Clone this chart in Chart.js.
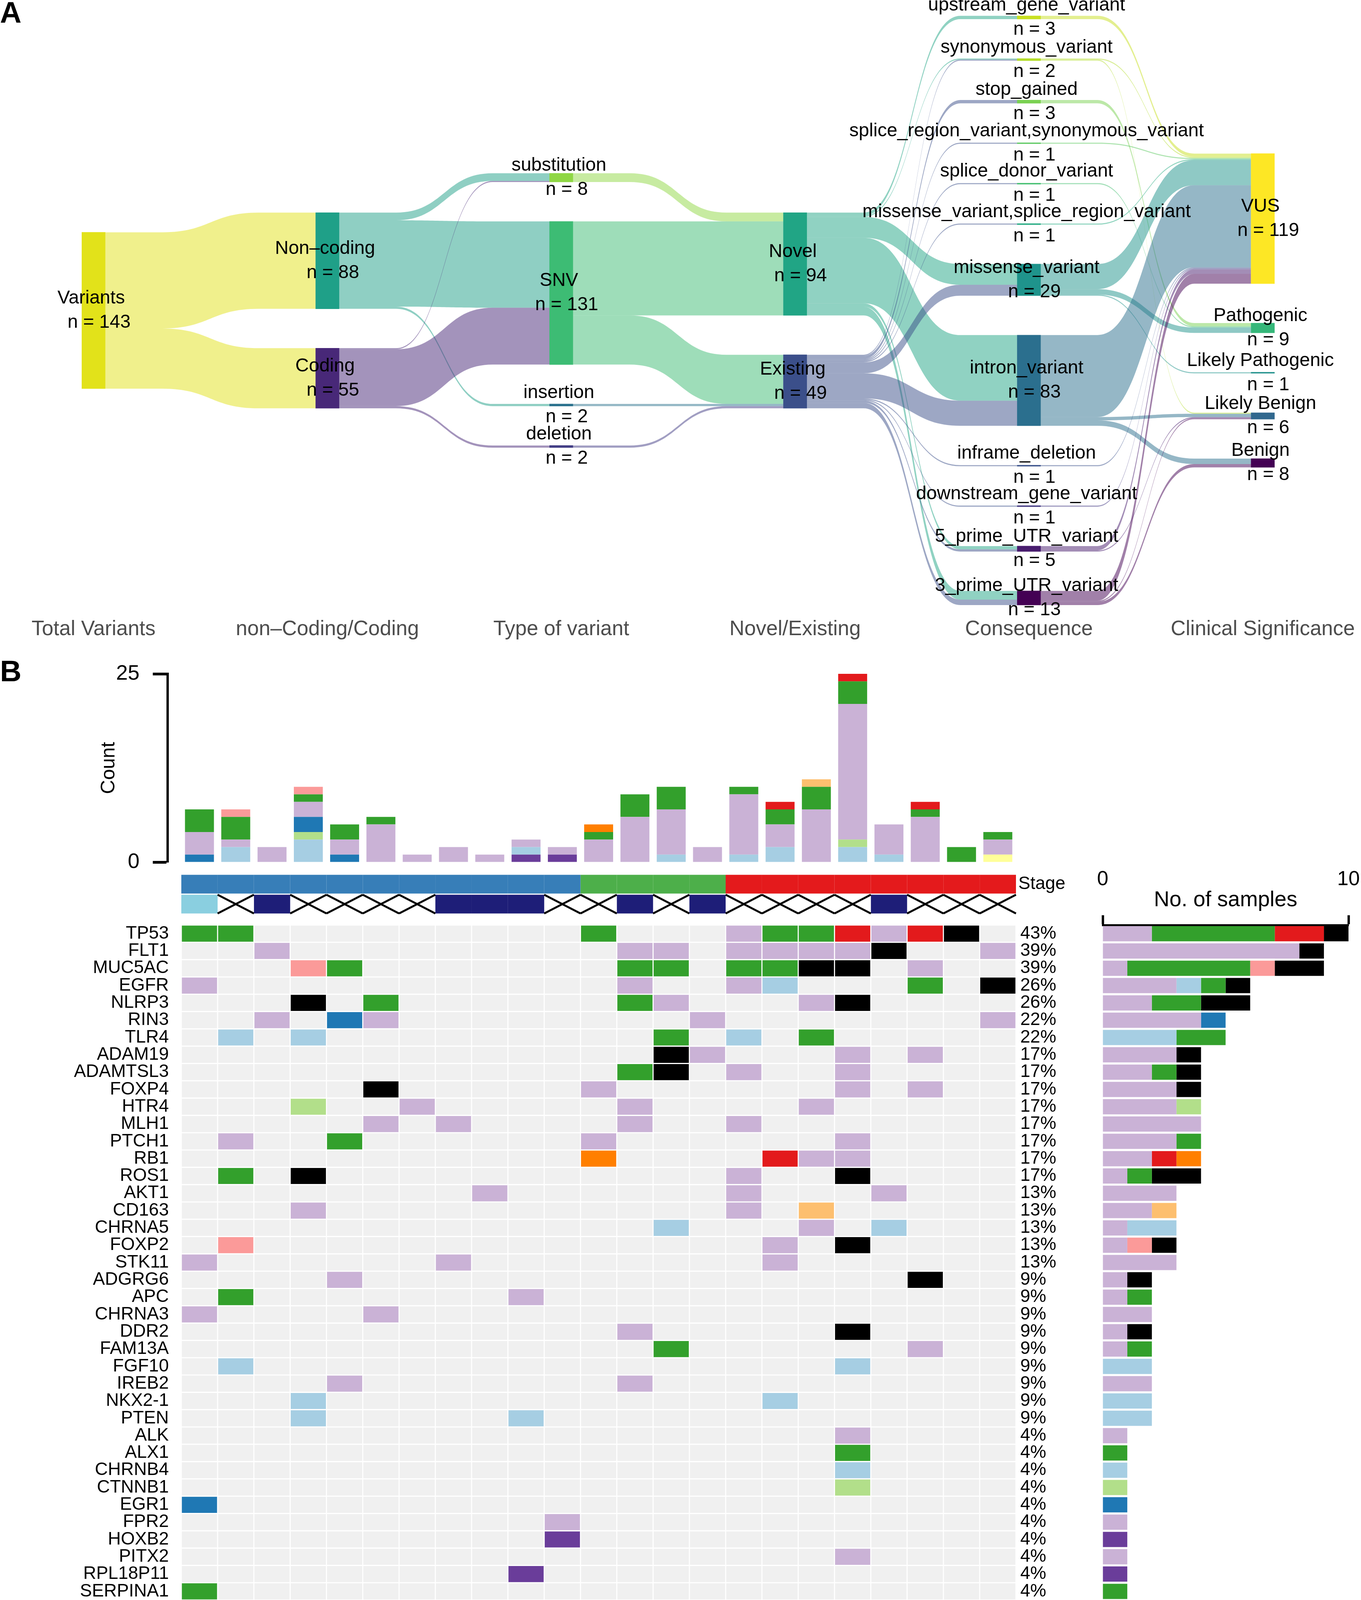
<!DOCTYPE html>
<html>
<head>
<meta charset="utf-8">
<script src="https://cdn.jsdelivr.net/npm/chart.js@4.4.1/dist/chart.umd.min.js"></script>
<style>
  html, body { margin: 0; padding: 0; background: #fff; }
  #page { position: relative; width: 3483px; height: 5612px; background: #fff; overflow: hidden;
          font-family: "Liberation Sans", Arial, Helvetica, sans-serif; color: #000; }
  canvas { position: absolute; }
  .tag { position: absolute; font-weight: bold; font-size: 76px; line-height: 1; }
  .lg { position: absolute; white-space: nowrap; line-height: 1; }
  .sw { position: absolute; }
</style>
</head>
<body>
<div id="page">
  <div class="tag" style="left:0;top:-6px">A</div>
  <div class="tag" style="left:0;top:1680px">B</div>
  <canvas id="sankey" style="left:0;top:0" width="3483" height="1660"></canvas>
  <canvas id="counts" style="left:200px;top:1680px" width="2400" height="557"></canvas>
  <canvas id="tracks" style="left:164px;top:2228px" width="2636" height="122"></canvas>
  <canvas id="onco" style="left:164px;top:2368px" width="2556" height="2061"></canvas>
  <canvas id="perGene" style="left:2760px;top:2200px" width="723" height="2029"></canvas>
  <canvas id="spectrum" style="left:464px;top:4449px" width="2136" height="606"></canvas>
</div>
<script>
// ---------------- Panel A : variant flow ----------------
const sankeyColumns = ['Total Variants', 'non\u2013Coding/Coding', 'Type of variant', 'Novel/Existing', 'Consequence', 'Clinical Significance'];
const totalNodes = ['Variants'];
const codingNodes = ['Non\u2013coding', 'Coding'];
const typeNodes = ['substitution', 'SNV', 'insertion', 'deletion'];
const noveltyNodes = ['Novel', 'Existing'];
const consequenceNodes = ['upstream_gene_variant', 'synonymous_variant', 'stop_gained',
  'splice_region_variant,synonymous_variant', 'splice_donor_variant', 'missense_variant,splice_region_variant',
  'missense_variant', 'intron_variant', 'inframe_deletion', 'downstream_gene_variant',
  '5_prime_UTR_variant', '3_prime_UTR_variant'];
const significanceNodes = ['VUS', 'Pathogenic', 'Likely Pathogenic', 'Likely Benign', 'Benign'];

// [from, to, n]
const codingFlows = [['Variants', 'Non\u2013coding', 88], ['Variants', 'Coding', 55]];
const typeFlows = [
  ['Non\u2013coding', 'substitution', 7], ['Non\u2013coding', 'SNV', 79], ['Non\u2013coding', 'insertion', 2],
  ['Coding', 'substitution', 1], ['Coding', 'SNV', 52], ['Coding', 'deletion', 2]];
const noveltyFlows = [
  ['substitution', 'Novel', 8], ['SNV', 'Novel', 86], ['SNV', 'Existing', 45],
  ['insertion', 'Existing', 2], ['deletion', 'Existing', 2]];
const consequenceFlows = [
  ['Novel', 'upstream_gene_variant', 3], ['Novel', 'synonymous_variant', 1], ['Novel', 'missense_variant', 19],
  ['Novel', 'intron_variant', 60], ['Novel', '5_prime_UTR_variant', 3], ['Novel', '3_prime_UTR_variant', 8],
  ['Existing', 'synonymous_variant', 1], ['Existing', 'stop_gained', 3],
  ['Existing', 'splice_region_variant,synonymous_variant', 1], ['Existing', 'splice_donor_variant', 1],
  ['Existing', 'missense_variant,splice_region_variant', 1], ['Existing', 'missense_variant', 10],
  ['Existing', 'intron_variant', 23], ['Existing', 'inframe_deletion', 1], ['Existing', 'downstream_gene_variant', 1],
  ['Existing', '5_prime_UTR_variant', 2], ['Existing', '3_prime_UTR_variant', 5]];
const significanceFlows = [
  ['upstream_gene_variant', 'VUS', 3], ['synonymous_variant', 'VUS', 1], ['synonymous_variant', 'Likely Benign', 1],
  ['stop_gained', 'Pathogenic', 3], ['splice_region_variant,synonymous_variant', 'VUS', 1],
  ['splice_donor_variant', 'Pathogenic', 1], ['missense_variant,splice_region_variant', 'VUS', 1],
  ['missense_variant', 'VUS', 23], ['missense_variant', 'Pathogenic', 5], ['missense_variant', 'Likely Pathogenic', 1],
  ['intron_variant', 'VUS', 75], ['intron_variant', 'Likely Benign', 3], ['intron_variant', 'Benign', 5],
  ['inframe_deletion', 'VUS', 1], ['downstream_gene_variant', 'VUS', 1],
  ['5_prime_UTR_variant', 'VUS', 4], ['5_prime_UTR_variant', 'Likely Benign', 1],
  ['3_prime_UTR_variant', 'VUS', 9], ['3_prime_UTR_variant', 'Likely Benign', 1], ['3_prime_UTR_variant', 'Benign', 3]];

// ---------------- Panel B : oncoplot ----------------
const samples = ['PCT68', 'PCT80', 'PCT72', 'PCT22', 'PCT67', 'PCT50', 'PCT21', 'PCT87', 'PCT73', 'PCT88', 'PCT79', 'PCT76',
  'PCT71', 'PCT65', 'PCT85', 'PCT20', 'PCT33', 'PCT45', 'PCT75', 'PCT53', 'PCT74', 'PCT47', 'PCT46'];
const stage = [1, 1, 1, 1, 1, 1, 1, 1, 1, 1, 1, 2, 2, 2, 2, 3, 3, 3, 3, 3, 3, 3, 3];
const ezh2 = ['high', 'absent', 'low', 'absent', 'absent', 'absent', 'absent', 'low', 'low', 'low', 'absent', 'absent',
  'low', 'absent', 'low', 'absent', 'absent', 'absent', 'absent', 'low', 'absent', 'absent', 'absent'];
const genes = ['TP53', 'FLT1', 'MUC5AC', 'EGFR', 'NLRP3', 'RIN3', 'TLR4', 'ADAM19', 'ADAMTSL3', 'FOXP4', 'HTR4', 'MLH1',
  'PTCH1', 'RB1', 'ROS1', 'AKT1', 'CD163', 'CHRNA5', 'FOXP2', 'STK11', 'ADGRG6', 'APC', 'CHRNA3', 'DDR2', 'FAM13A',
  'FGF10', 'IREB2', 'NKX2-1', 'PTEN', 'ALK', 'ALX1', 'CHRNB4', 'CTNNB1', 'EGR1', 'FPR2', 'HOXB2', 'PITX2', 'RPL18P11',
  'SERPINA1', 'SLC22A18', 'TET2', 'TGFB2'];
// one string per gene, one letter per sample:
// I Intron, U 3'UTR, M Missense, 5 5'UTR, F 5'Flank, S Silent, N Nonsense, R Splice_Region,
// D In_Frame_Del, P Splice_Site, L 3'Flank, H Multi_Hit, . none
const calls = [
  'MM.........M...IMMNINH.',
  '..I.........II.IIIIH..I',
  '...SM.......MM.MMHH.I..',
  'I...........I..IU...M.H',
  '...H.M......MI...IH....',
  '..I.5I........I.......I',
  '.U.U.........M.U.M.....',
  '.............HI...I.I..',
  '............MH.I..I....',
  '.....H.....I......I.I..',
  '...F..I.....I....I.....',
  '.....I.I....I..I.......',
  '.I..M......I......I....',
  '...........P....NII....',
  '.M.H...........I..H....',
  '........I......I...I...',
  '...I...........I.R.....',
  '.............U...I.U...',
  '.S..............I.H....',
  'I......I........I......',
  '....I...............H..',
  '.M.......I.............',
  'I....I.................',
  '............I.....H....',
  '.............M......I..',
  '.U................U....',
  '....I.......I..........',
  '...U............U......',
  '...U.....U.............',
  '..................I....',
  '..................M....',
  '..................U....',
  '..................F....',
  '5......................',
  '..........I............',
  '..........L............',
  '..................I....',
  '.........L.............',
  'M......................',
  '...........I...........',
  'M......................',
  '.................I.....'];
const typeNames = { I: 'Intron', U: "3'UTR", M: 'Missense', 5: "5'UTR", F: "5'Flank", S: 'Silent', N: 'Nonsense',
  R: 'Splice_Region', D: 'In_Frame_Del', P: 'Splice_Site', L: "3'Flank", H: 'Multi_Hit' };

// variants per sample (top bar), by classification
const inFrameDel   = [0,0,0,0,0,0,0,0,0,0,0,0,0,0,0,0,0,0,0,0,0,0,1];
const flank3       = [0,0,0,0,0,0,0,0,0,1,1,0,0,0,0,0,0,0,0,0,0,0,0];
const utr3         = [0,2,0,3,0,0,0,0,0,1,0,0,0,1,0,1,2,0,2,1,0,0,0];
const flank5       = [0,0,0,1,0,0,0,0,0,0,0,0,0,0,0,0,0,0,1,0,0,0,0];
const utr5         = [1,0,0,2,1,0,0,0,0,0,0,0,0,0,0,0,0,0,0,0,0,0,0];
const intron       = [3,1,2,2,2,5,1,2,1,1,1,3,6,6,2,8,3,7,18,4,6,0,2];
const missense     = [3,3,0,1,2,1,0,0,0,0,0,1,3,3,0,1,2,3,3,0,1,2,1];
const spliceSite   = [0,0,0,0,0,0,0,0,0,0,0,1,0,0,0,0,0,0,0,0,0,0,0];
const nonsense     = [0,0,0,0,0,0,0,0,0,0,0,0,0,0,0,0,1,0,1,0,1,0,0];
const spliceRegion = [0,0,0,0,0,0,0,0,0,0,0,0,0,0,0,0,0,1,0,0,0,0,0];
const silent       = [0,1,0,1,0,0,0,0,0,0,0,0,0,0,0,0,0,0,0,0,0,0,0];

// substitution spectrum per sample (counts)
const subCA = [0,1,0,0,1,1,1,0,0,0,1,1,1,1,0,2,4,4,13,1,2,1,1];
const subCG = [0,0,0,2,0,1,0,1,0,0,0,1,1,3,0,1,2,0,2,0,0,1,0];
const subCT = [4,2,0,2,1,0,0,1,0,0,1,1,1,1,0,3,1,3,4,2,0,0,0];
const subTC = [3,3,0,3,2,2,0,0,1,1,0,2,0,1,0,1,0,1,3,1,0,0,1];
const subTA = [0,1,1,2,1,0,0,0,0,2,0,0,0,1,0,2,0,2,1,0,1,0,0];
const subTG = [0,0,1,0,0,0,0,0,0,0,0,0,0,3,1,1,0,1,1,0,2,0,1];

// ---------------- styles ----------------
const FONT = '"Liberation Sans", Arial, Helvetica, sans-serif';
Chart.defaults.font.family = FONT;
Chart.defaults.color = '#000';

const nodeColors = {
  'Variants': '#E2E21A', 'Non\u2013coding': '#1FA088', 'Coding': '#482878',
  'substitution': '#8FD744', 'SNV': '#3DBC74', 'insertion': '#2C728E', 'deletion': '#433E85',
  'Novel': '#21A585', 'Existing': '#3B4F8A',
  'upstream_gene_variant': '#C8E020', 'synonymous_variant': '#B4DD2B', 'stop_gained': '#7AD151',
  'splice_region_variant,synonymous_variant': '#5EC962', 'splice_donor_variant': '#44BF70',
  'missense_variant,splice_region_variant': '#25AB82', 'missense_variant': '#1F948C', 'intron_variant': '#2B6F8E',
  'inframe_deletion': '#3B528B', 'downstream_gene_variant': '#443A83', '5_prime_UTR_variant': '#481C6E',
  '3_prime_UTR_variant': '#440154',
  'VUS': '#FDE725', 'Pathogenic': '#35B779', 'Likely Pathogenic': '#21918C', 'Likely Benign': '#31688E', 'Benign': '#440154'
};
const typeColors = { I: '#CAB2D6', U: '#A6CEE3', M: '#33A02C', 5: '#1F78B4', F: '#B2DF8A', S: '#FB9A99',
  N: '#E31A1C', R: '#FDBF6F', D: '#FFFF99', P: '#FF7F00', L: '#6A3D9A', H: '#000000', '.': '#F0F0F0' };
const stageColors = { 1: '#377EB8', 2: '#4DAF4A', 3: '#E41A1C' };
const ezhColors = { low: '#1E1E78', high: '#8ACFE0', absent: '#FFFFFF' };
const subColors = { 'C>T': '#F44336', 'C>G': '#3F51B5', 'C>A': '#2196F3', 'T>A': '#4CAF50', 'T>C': '#FFC107', 'T>G': '#FF9800' };

const noPad = s => { s.paddingLeft = 0; s.paddingRight = 0; s.paddingTop = 0; s.paddingBottom = 0; };
const base = { responsive: false, devicePixelRatio: 1, animation: false,
  plugins: { legend: { display: false }, tooltip: { enabled: false } } };

// ---------------- Sankey layout (in variant units) ----------------
const sankeyLayers = [totalNodes, codingNodes, typeNodes, noveltyNodes, consequenceNodes, significanceNodes];
const sankeyFlows = [codingFlows, typeFlows, noveltyFlows, consequenceFlows, significanceFlows];
const GAP = 36;
const nodeInfo = {};
sankeyLayers.forEach((names, col) => {
  names.forEach((name, k) => {
    const inSum = col > 0 ? sankeyFlows[col - 1].filter(f => f[1] === name).reduce((a, f) => a + f[2], 0) : 0;
    const outSum = col < sankeyFlows.length ? sankeyFlows[col].filter(f => f[0] === name).reduce((a, f) => a + f[2], 0) : 0;
    nodeInfo[name] = { col, k, value: Math.max(inSum, outSum) };
  });
  const total = names.reduce((a, n) => a + nodeInfo[n].value, 0) + GAP * (names.length - 1);
  let y = -total / 2;
  names.forEach(n => { nodeInfo[n].y0 = y; nodeInfo[n].y1 = y + nodeInfo[n].value; y += nodeInfo[n].value + GAP; });
});
const ribbons = [];
sankeyFlows.forEach((flows, c) => {
  const rs = flows.map(f => ({ from: f[0], to: f[1], n: f[2], col: c }));
  const outOff = {}, inOff = {};
  rs.slice().sort((a, b) => nodeInfo[a.from].k - nodeInfo[b.from].k || nodeInfo[a.to].k - nodeInfo[b.to].k)
    .forEach(r => { const o = outOff[r.from] || 0; r.sy0 = nodeInfo[r.from].y0 + o; r.sy1 = r.sy0 + r.n; outOff[r.from] = o + r.n; });
  rs.slice().sort((a, b) => nodeInfo[a.to].k - nodeInfo[b.to].k || nodeInfo[a.from].k - nodeInfo[b.from].k)
    .forEach(r => { const o = inOff[r.to] || 0; r.ty0 = nodeInfo[r.to].y0 + o; r.ty1 = r.ty0 + r.n; inOff[r.to] = o + r.n; });
  ribbons.push(...rs);
});
const nodeNames = Object.keys(nodeInfo);

const sankeyPlugin = {
  id: 'sankeyFlows',
  beforeDatasetsDraw(chart) {
    const { ctx, scales: { x, y } } = chart;
    ctx.save();
    ribbons.forEach(r => {
      const xs = x.getPixelForValue(r.col) + 30, xt = x.getPixelForValue(r.col + 1) - 30;
      const w = xt - xs, x1 = xs + 0.27 * w, x2 = xt - 0.27 * w, xm = (xs + xt) / 2;
      const a0 = y.getPixelForValue(r.sy0), a1 = y.getPixelForValue(r.sy1);
      const b0 = y.getPixelForValue(r.ty0), b1 = y.getPixelForValue(r.ty1);
      ctx.beginPath();
      ctx.moveTo(xs, a0); ctx.lineTo(x1, a0);
      ctx.bezierCurveTo(xm, a0, xm, b0, x2, b0);
      ctx.lineTo(xt, b0); ctx.lineTo(xt, b1); ctx.lineTo(x2, b1);
      ctx.bezierCurveTo(xm, b1, xm, a1, x1, a1);
      ctx.lineTo(xs, a1);
      ctx.closePath();
      ctx.fillStyle = nodeColors[r.from] + '80';
      ctx.fill();
    });
    ctx.restore();
  },
  afterDatasetsDraw(chart) {
    const { ctx, scales: { x, y } } = chart;
    ctx.save();
    ctx.font = '48px ' + FONT;
    ctx.fillStyle = '#000';
    ctx.textAlign = 'center';
    ctx.textBaseline = 'middle';
    nodeNames.forEach(name => {
      const n = nodeInfo[name];
      const px = x.getPixelForValue(n.col), py = y.getPixelForValue((n.y0 + n.y1) / 2);
      ctx.fillText(name, px - 6, py - 31);
      ctx.fillText('n = ' + n.value, px + 14, py + 31);
    });
    ctx.restore();
  }
};

new Chart(document.getElementById('sankey'), {
  type: 'bar',
  data: { datasets: [{
    data: nodeNames.map(n => ({ x: nodeInfo[n].col, y: [nodeInfo[n].y0, nodeInfo[n].y1] })),
    backgroundColor: nodeNames.map(n => nodeColors[n]),
    barThickness: 60, borderWidth: 0, borderSkipped: false
  }] },
  options: Object.assign({}, base, {
    layout: { padding: 0 },
    scales: {
      x: { type: 'linear', min: -0.4, max: 5.42, offset: false,
        grid: { display: false, drawTicks: false }, border: { display: false },
        afterBuildTicks: s => { s.ticks = sankeyColumns.map((c, i) => ({ value: i })); },
        ticks: { autoSkip: false, maxRotation: 0, padding: 10, color: '#4D4D4D', font: { size: 53 },
          callback: (v, i) => sankeyColumns[i] },
        afterFit: s => { s.height = 90; noPad(s); } },
      y: { type: 'linear', min: -284, max: 277, reverse: true, display: false }
    }
  }),
  plugins: [sankeyPlugin]
});

// ---------------- top bar: variants per sample ----------------
const countSeries = [
  ['D', inFrameDel], ['L', flank3], ['U', utr3], ['F', flank5], ['5', utr5], ['I', intron],
  ['M', missense], ['P', spliceSite], ['N', nonsense], ['R', spliceRegion], ['S', silent]];
new Chart(document.getElementById('counts'), {
  type: 'bar',
  data: { datasets: countSeries.map(([code, arr]) => ({
    label: typeNames[code],
    data: arr.map((v, i) => ({ x: i, y: v })),
    backgroundColor: typeColors[code], borderWidth: 0,
    barPercentage: 0.91, categoryPercentage: 1
  })) },
  options: Object.assign({}, base, {
    layout: { padding: { top: 45, bottom: 30, left: 0, right: 0 } },
    scales: {
      x: { type: 'linear', stacked: true, offset: false, min: -0.877, max: 22.5, display: false },
      y: { stacked: true, min: 0, max: 25,
        ticks: { stepSize: 25, font: { size: 54 }, padding: 34, color: '#000' },
        grid: { drawOnChartArea: false, drawTicks: true, tickLength: 38, tickWidth: 7, color: '#000' },
        border: { display: true, width: 6, color: '#000' },
        title: { display: true, text: 'Count', font: { size: 50 }, padding: { top: 49, bottom: 0 }, color: '#000' },
        afterFit: s => { s.width = 229; noPad(s); } }
    }
  })
});

// ---------------- annotation tracks: Stage / CTC EZH2 ----------------
const trackNames = ['Stage', 'CTC'];
const trackPlugin = {
  id: 'trackMarks',
  afterDatasetsDraw(chart) {
    const ctx = chart.ctx;
    ctx.save();
    ctx.strokeStyle = '#000';
    ctx.lineWidth = 5;
    ezh2.forEach((v, i) => {
      if (v !== 'absent') return;
      const el = chart.getDatasetMeta(i).data[1];
      const { x, y, base: b, height } = el.getProps(['x', 'y', 'base', 'height'], true);
      const t = y - height / 2, btm = y + height / 2;
      ctx.beginPath();
      ctx.moveTo(b, t); ctx.lineTo(x, btm);
      ctx.moveTo(b, btm); ctx.lineTo(x, t);
      ctx.stroke();
    });
    ctx.restore();
  },
  afterDraw(chart) {
    const s = chart.scales.y, ctx = chart.ctx;
    const py = s.getPixelForTick(1);
    ctx.save();
    ctx.font = '46px ' + FONT;
    const w = ctx.measureText('CTC').width;
    ctx.font = '30px ' + FONT;
    ctx.fillStyle = '#000';
    ctx.textAlign = 'left';
    ctx.textBaseline = 'middle';
    ctx.fillText('EZH2', s.left + 6 + w + 2, py - 19);
    ctx.restore();
  }
};
new Chart(document.getElementById('tracks'), {
  type: 'bar',
  data: { labels: trackNames, datasets: samples.map((s, i) => ({
    label: s,
    data: [[i, i + 1], [i, i + 1]],
    backgroundColor: [stageColors[stage[i]], ezhColors[ezh2[i]]],
    borderWidth: 0, barPercentage: 0.94, categoryPercentage: 1, grouped: false
  })) },
  options: Object.assign({}, base, {
    indexAxis: 'y',
    layout: { padding: { left: 300, top: 10, bottom: 10, right: 0 } },
    scales: {
      x: { type: 'linear', min: 0, max: samples.length, display: false },
      y: { type: 'category', position: 'right', grid: { display: false, drawTicks: false }, border: { display: false },
        ticks: { font: { size: 46 }, padding: 6, color: '#000' },
        afterFit: s => { s.width = 200; noPad(s); } }
    }
  }),
  plugins: [trackPlugin]
});

// ---------------- oncoplot matrix ----------------
const geneCounts = calls.map(row => row.split('').filter(c => c !== '.').length);
const genePct = geneCounts.map(c => Math.round(c / samples.length * 100) + '%');
const rowTicks = s => { s.ticks = genes.map((g, i) => ({ value: i + 0.5 })); };
new Chart(document.getElementById('onco'), {
  type: 'bar',
  data: { labels: samples, datasets: genes.map((g, gi) => ({
    label: g,
    data: samples.map(() => [gi + 0.035, gi + 0.965]),
    backgroundColor: calls[gi].split('').map(c => typeColors[c]),
    borderWidth: 0, barPercentage: 0.97, categoryPercentage: 1, grouped: false, yAxisID: 'y'
  })) },
  options: Object.assign({}, base, {
    layout: { padding: 0 },
    scales: {
      x: { type: 'category', grid: { display: false, drawTicks: false }, border: { display: false },
        ticks: { autoSkip: false, minRotation: 90, maxRotation: 90, padding: 23, font: { size: 52 }, color: '#000' },
        afterFit: s => { s.height = 200; noPad(s); } },
      y: { type: 'linear', min: 0, max: genes.length, reverse: true, position: 'left',
        grid: { display: false, drawTicks: false }, border: { display: false },
        afterBuildTicks: rowTicks,
        ticks: { autoSkip: false, padding: 32, font: { size: 46 }, color: '#000', callback: (v, i) => genes[i] },
        afterFit: s => { s.width = 300; noPad(s); } },
      yp: { type: 'linear', min: 0, max: genes.length, reverse: true, position: 'right',
        grid: { display: false, drawTicks: false }, border: { display: false },
        afterBuildTicks: rowTicks,
        ticks: { autoSkip: false, padding: 11, font: { size: 46 }, color: '#000', callback: (v, i) => genePct[i] },
        afterFit: s => { s.width = 120; noPad(s); } }
    }
  })
});

// ---------------- samples per gene (right bar) ----------------
const perGeneOrder = ['I', 'U', 'M', '5', 'F', 'N', 'P', 'R', 'S', 'L', 'D', 'H'];
const perGeneTitle = {
  id: 'perGeneTitle',
  afterDraw(chart) {
    const x = chart.scales.x, ctx = chart.ctx;
    ctx.save();
    ctx.font = '55px ' + FONT;
    ctx.fillStyle = '#000';
    ctx.textAlign = 'center';
    ctx.textBaseline = 'middle';
    ctx.fillText('No. of samples', (x.left + x.right) / 2, x.bottom - 63);
    ctx.restore();
  }
};
new Chart(document.getElementById('perGene'), {
  type: 'bar',
  data: { labels: genes, datasets: perGeneOrder.map(code => ({
    label: typeNames[code],
    data: calls.map(row => row.split('').filter(c => c === code).length),
    backgroundColor: typeColors[code], borderWidth: 0, barPercentage: 0.88, categoryPercentage: 1
  })) },
  options: Object.assign({}, base, {
    indexAxis: 'y',
    layout: { padding: { left: 62, right: 32, top: 0, bottom: 0 } },
    scales: {
      x: { position: 'top', stacked: true, min: 0, max: 10,
        ticks: { stepSize: 10, font: { size: 52 }, padding: 60, color: '#000' },
        grid: { drawOnChartArea: false, drawTicks: true, tickLength: 25, tickWidth: 6, color: '#000' },
        border: { display: true, width: 5, color: '#000' },
        afterFit: s => { s.height = 168; noPad(s); } },
      y: { stacked: true, display: false }
    }
  }),
  plugins: [perGeneTitle]
});

// ---------------- substitution spectrum ----------------
const spectrumSeries = [['C>A', subCA], ['C>G', subCG], ['C>T', subCT], ['T>C', subTC], ['T>A', subTA], ['T>G', subTG]];
const spectrumTotals = samples.map((s, i) => spectrumSeries.reduce((a, [, arr]) => a + arr[i], 0));
new Chart(document.getElementById('spectrum'), {
  type: 'bar',
  data: { labels: samples, datasets: spectrumSeries.map(([name, arr]) => ({
    label: name,
    data: arr.map((v, i) => v / spectrumTotals[i] * 100),
    backgroundColor: subColors[name], borderWidth: 0, barPercentage: 0.92, categoryPercentage: 1
  })) },
  options: Object.assign({}, base, {
    layout: { padding: 0 },
    scales: {
      x: { stacked: true, display: false },
      y: { stacked: true, min: 0, max: 100, display: false }
    }
  })
});

// ---------------- legends ----------------
const page = document.getElementById('page');
function legendText(left, cy, text, size) {
  const d = document.createElement('div');
  d.className = 'lg';
  d.style.left = left + 'px';
  d.style.top = (cy - size / 2) + 'px';
  d.style.fontSize = size + 'px';
  d.textContent = text;
  page.appendChild(d);
}
function legendSwatch(left, cy, w, h, color) {
  const d = document.createElement('div');
  d.className = 'sw';
  d.style.left = left + 'px';
  d.style.top = (cy - h / 2) + 'px';
  d.style.width = w + 'px';
  d.style.height = h + 'px';
  d.style.background = color;
  page.appendChild(d);
  return d;
}
const legendColA = ['I', 'U', 'M', '5', 'F', 'S'];
const legendColB = ['N', 'R', 'D', 'P', 'L', 'H'];
legendColA.forEach((c, k) => {
  const cy = 5157 + k * 85.5;
  legendSwatch(794, cy, 26, 24, typeColors[c]);
  legendText(852, cy, typeNames[c], 56);
});
legendColB.forEach((c, k) => {
  const cy = 5157 + k * 85.5;
  legendSwatch(1285, cy, 26, 24, typeColors[c]);
  legendText(1343, cy, typeNames[c], 56);
});
legendText(1796, 5176, 'Stage', 58);
[1, 2, 3].forEach((s, k) => {
  const cy = [5230, 5288, 5339][k];
  legendSwatch(1802, cy, 22, 20, stageColors[s]);
  legendText(1848, cy, String(s), 46);
});
legendText(2020, 5176, 'EZH2 high/low', 58);
const absBox = legendSwatch(2026, 5230, 20, 20, '#fff');
absBox.style.boxSizing = 'border-box';
absBox.style.border = '2px solid #000';
absBox.style.background = 'linear-gradient(45deg, transparent 44%, #000 44%, #000 56%, transparent 56%),' +
  'linear-gradient(-45deg, transparent 44%, #000 44%, #000 56%, transparent 56%)';
legendText(2072, 5230, 'Absence CTC', 46);
legendSwatch(2026, 5288, 22, 20, ezhColors.low);
legendText(2072, 5288, 'EZH2 low', 46);
legendSwatch(2026, 5339, 22, 20, ezhColors.high);
legendText(2072, 5339, 'EZH2 high', 46);

['C>T', 'C>G', 'C>A', 'T>A', 'T>C', 'T>G'].forEach((name, k) => {
  const cy = 4575 + k * 63;
  legendSwatch(2833, cy, 27, 23, subColors[name]);
  legendText(2902, cy, name, 55);
});
</script>
</body>
</html>
